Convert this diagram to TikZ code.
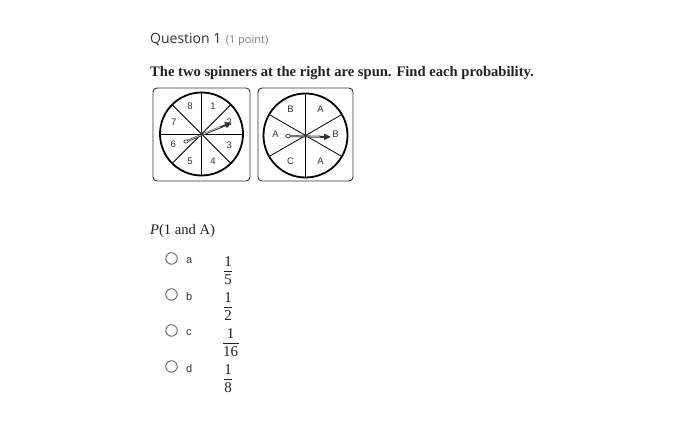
\documentclass[tikz,border=0pt]{standalone}
\usepackage{fontspec}
\setmainfont{Liberation Serif}
\newfontfamily\opensans{Open Sans}
\newfontfamily\lsans{Liberation Sans}
\usetikzlibrary{calc,arrows.meta}
\definecolor{qdark}{HTML}{333333}
\definecolor{qgray}{HTML}{808080}
\definecolor{ink}{HTML}{222222}
\definecolor{radio}{HTML}{666666}
\tikzset{
  qbox/.style={draw=qdark, line width=0.9pt, rounded corners=4pt},
  wheel/.style={draw=black, line width=1.8pt},
  sector/.style={draw=black, line width=0.8pt},
  seclabel/.style={font=\lsans\fontsize{9.5}{10}\selectfont, text=qdark, inner sep=0pt},
  radiobtn/.style={circle, draw=radio, line width=0.9pt, minimum size=11.5pt, inner sep=0pt},
  optletter/.style={font=\lsans\fontsize{11}{12}\selectfont, text=qdark, anchor=west, inner sep=0pt},
  fracdigit/.style={font=\fontsize{15}{16}\selectfont, text=ink, inner sep=0pt},
  fracbar/.style={draw=ink, line width=0.8pt},
  shaft/.style={draw=qdark, line width=2pt, -{Triangle[length=7pt, width=6pt]}},
  shaftin/.style={draw=white!80!gray, line width=0.6pt},
}
\begin{document}
\begin{tikzpicture}[x=1pt,y=-1pt]
\useasboundingbox[fill=white] (0,0) rectangle (677,427);
% heading
\node[anchor=base west, inner sep=0pt, font=\opensans\fontsize{14}{16}\selectfont, text=qdark] (q) at (150,44) {Question 1};
\node[anchor=base west, inner sep=0pt, font=\opensans\fontsize{11}{13}\selectfont, text=qgray] (pt) at ($(q.base east)+(4,0)$) {(1 point)};
\node[anchor=base west, inner sep=0pt, font=\bfseries\fontsize{14.6}{16}\selectfont, text=ink] (stem) at (150,77) {The two spinners at the right are spun. Find each probability.};
% spinner 1
\draw[qbox] (153,88) rectangle (250,181);
\coordinate (c1) at (201.5,134);
\foreach \a in {0,45,...,135} {\draw[sector] ($(c1)+(\a:-41)$) -- ($(c1)+(\a:41)$);}
\draw[wheel] (c1) circle (41.5);
\foreach \lab/\ang in {1/67.5,2/22.5,3/-22.5,4/-67.5,5/-112.5,6/-160,7/157.5,8/112.5}
  {\node[seclabel] (s1-\lab) at ($(c1)+(-\ang:30)$) {\lab};}
\coordinate (t1) at (186,141.5);
\coordinate (h1) at (232,122.5);
\draw[shaft] (t1) -- (h1);
\draw[shaftin] ($(t1)!0.1!(c1)$) -- ($(c1)!0.62!(h1)$);
\draw[qdark, fill=white, line width=0.6pt] (t1) ellipse (2.2 and 1.6);
\fill[qdark] (c1) circle (1.6);
% spinner 2
\draw[qbox] (258,88) rectangle (353,181);
\coordinate (c2) at (305.5,135.5);
\foreach \a in {90,30,-30} {\draw[sector] ($(c2)+(\a:-41.5)$) -- ($(c2)+(\a:41.5)$);}
\draw[wheel] (c2) circle (42);
\foreach \lab/\ang/\k in {B/120/a,A/60/b,B/2/c,A/-60/d,C/-120/e,A/178/f}
  {\node[seclabel] (s2-\k) at ($(c2)+(-\ang:30)$) {\lab};}
\coordinate (t2) at (288,136);
\coordinate (h2) at (331,137);
\draw[shaft] (t2) -- (h2);
\draw[shaftin] ($(t2)!0.1!(c2)$) -- ($(c2)!0.55!(h2)$);
\draw[qdark, fill=white, line width=0.6pt] (t2) ellipse (2.2 and 1.8);
\fill[qdark] (c2) circle (1.6);
% question
\node[anchor=base west, inner sep=0pt, font=\fontsize{14.6}{16}\selectfont, text=ink] (p) at (150,235) {\textit{P}(1 and A)};
% options
\foreach \l/\y/\d/\dx/\hw in {a/258.5/5/0/4, b/294.5/2/0/4, c/330.5/16/2.5/8, d/366.5/8/0/4} {
  \node[radiobtn] (r\l) at (171.5,\y) {};
  \node[optletter] (o\l) at (186,\y+2.5) {\l};
  \node[fracdigit] (n\l) at (228+\dx,\y+3.5) {1};
  \node[fracdigit] (d\l) at (228+\dx,\y+21.5) {\d};
  \draw[fracbar] ($(n\l.center)+(-\hw,9)$) -- ($(n\l.center)+(\hw,9)$);
}
\end{tikzpicture}
\end{document}
